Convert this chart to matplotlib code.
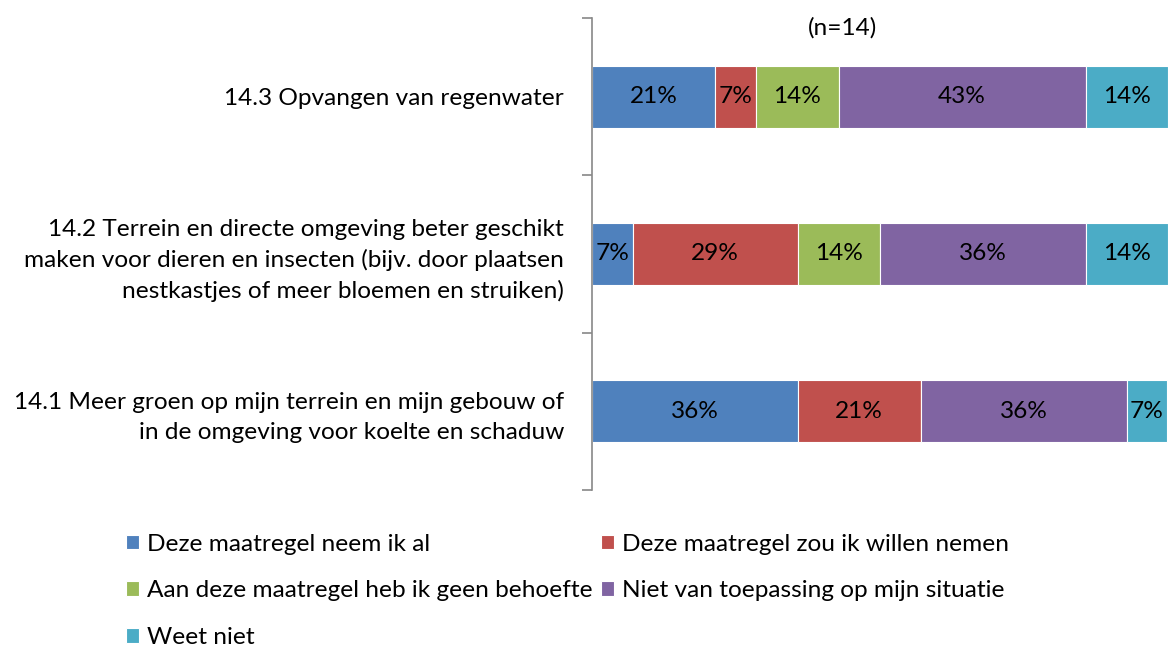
import matplotlib
matplotlib.use("Agg")
import matplotlib.pyplot as plt
import numpy as np

plt.rcParams['font.family'] = ['Lato', 'DejaVu Sans']

# data (share of respondents per answer, bottom item first)
items = ["14.1 Meer groen op mijn terrein en mijn gebouw of\nin de omgeving voor koelte en schaduw",
         "14.2 Terrein en directe omgeving beter geschikt\nmaken voor dieren en insecten (bijv. door plaatsen\nnestkastjes of meer bloemen en struiken)",
         "14.3 Opvangen van regenwater"]
series = ["Deze maatregel neem ik al",
          "Deze maatregel zou ik willen nemen",
          "Aan deze maatregel heb ik geen behoefte",
          "Niet van toepassing op mijn situatie",
          "Weet niet"]
neem_al = [35.7, 7.1, 21.4]
willen = [21.4, 28.6, 7.1]
geen_behoefte = [0.0, 14.3, 14.3]
niet_toepassing = [35.7, 35.7, 42.9]
weet_niet = [7.1, 14.3, 14.3]
colors = ["#4F81BD", "#C0504D", "#9BBB59", "#8064A2", "#4BACC6"]

values = [neem_al, willen, geen_behoefte, niet_toepassing, weet_niet]
FS = 17.6

fig = plt.figure(figsize=(11.68, 6.5), dpi=100)
ax = fig.add_axes([592 / 1168, 1 - 490 / 650, 576 / 1168, 472 / 650])

y = np.arange(len(items))
left = np.zeros(len(items))
handles = []
for vals, name, c in zip(values, series, colors):
    vals = np.array(vals)
    bars = ax.barh(y, vals, left=left, height=0.395, color=c, edgecolor="white", linewidth=0.8, label=name)
    handles.append(bars)
    for yi, v, l in zip(y, vals, left):
        if v > 0:
            ax.text(l + v / 2, yi, "%d%%" % round(v), ha="center", va="center", fontsize=FS, color="black")
    left += vals

ax.set_xlim(0, 100)
ax.set_ylim(-0.5, 2.5)
ax.set_yticks(y)
ax.set_yticklabels(items, fontsize=FS, linespacing=1.5, ha="right")
ax.tick_params(axis="y", length=0, pad=20)
ax.set_yticks([-0.5, 0.5, 1.5, 2.5], minor=True)
ax.tick_params(axis="y", which="minor", length=7, color="#888888", width=1.2)
ax.set_xticks([])
for s in ["top", "right", "bottom"]:
    ax.spines[s].set_visible(False)
ax.spines["left"].set_color("#888888")
ax.spines["left"].set_linewidth(1.2)

fig.text(842 / 1168, 1 - 28 / 650, "(n=14)", ha="center", va="center", fontsize=FS)

order = [0, 2, 4, 1, 3]
fig.legend([handles[i] for i in order], [series[i] for i in order], ncol=2,
           loc="upper left", bbox_to_anchor=(116 / 1168, 1 - 524 / 650), frameon=False,
           fontsize=FS, handlelength=0.55, handleheight=0.55, handletextpad=0.3,
           columnspacing=0.35, labelspacing=1.05, borderaxespad=0)

fig.savefig("out.png", dpi=100)
